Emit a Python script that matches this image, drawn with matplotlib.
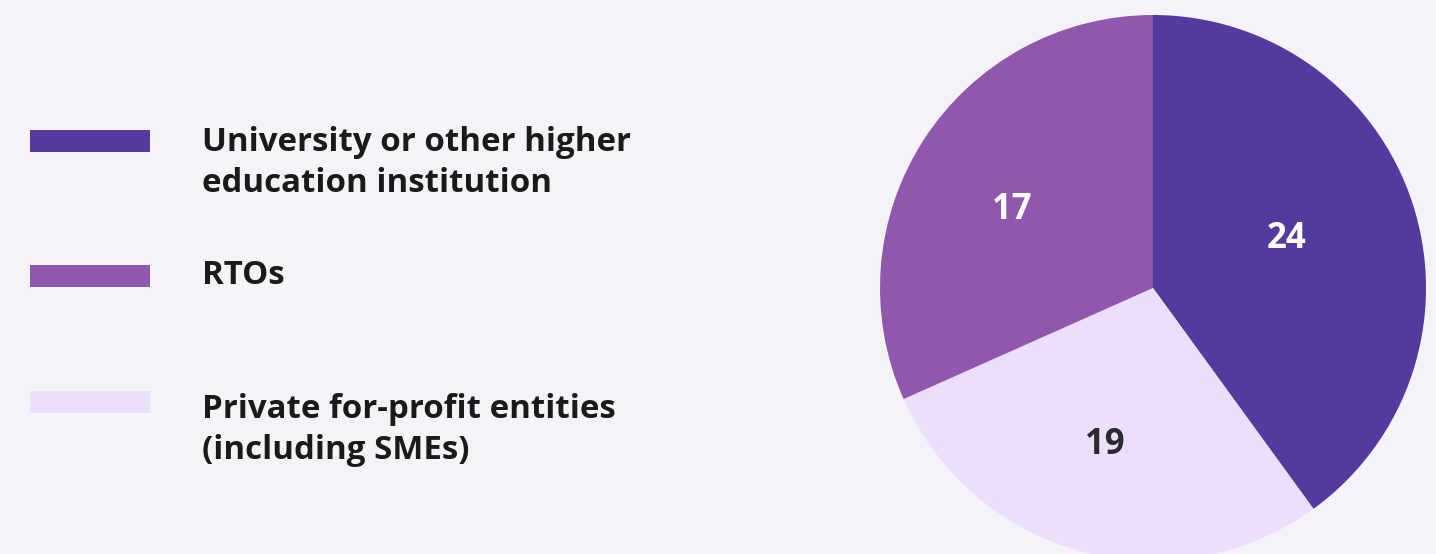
import matplotlib
matplotlib.use("Agg")
import matplotlib.pyplot as plt
from matplotlib.patches import Rectangle
import numpy as np

categories = ["University or other higher\neducation institution", "RTOs",
              "Private for-profit entities\n(including SMEs)"]
# wedge sizes as drawn in the picture (angles), and the numbers printed on them
wedge_values = [24, 19, 17]
printed_labels = ["24", "17", "19"]
colors = ["#543A9E", "#9157AE", "#ECDFFD"]
label_colors = ["#FFFFFF", "#FFFFFF", "#2B2B2B"]
bg = "#F4F3F8"

W, H = 1436, 554
fig = plt.figure(figsize=(W / 100, H / 100), dpi=100, facecolor=bg)
plt.rcParams['font.family'] = ['Open Sans', 'DejaVu Sans']

# pie: center (1153, 288), radius 273 px
cx, cy, r = 1153, 288, 273
ax = fig.add_axes([(cx - r) / W, (H - cy - r) / H, 2 * r / W, 2 * r / H])
ax.set_facecolor(bg)
# order clockwise from top: University, Private, RTOs
order = [0, 2, 1]
pv = [wedge_values[i] for i in order]
pc = [colors[i] for i in order]
wedges, texts = ax.pie(pv, colors=pc, startangle=90, counterclock=False,
                       radius=1, wedgeprops=dict(linewidth=0))
dists = {0: 0.52, 1: 0.59, 2: 0.6}
shift = {0: 2.0, 1: 4.0, 2: -2.0}
for w, i in zip(wedges, order):
    ang = np.deg2rad((w.theta1 + w.theta2) / 2 + shift[i])
    d = dists[i]
    ax.text(d * np.cos(ang), d * np.sin(ang), printed_labels[i], ha='center',
            va='center', fontsize=25, fontweight='bold', color=label_colors[i])
ax.set_xlim(-1, 1)
ax.set_ylim(-1, 1)
ax.set_aspect('equal')
ax.axis('off')

# legend
patch_y = [141, 276, 402]  # centers in px from top
text_y = [163, 276, 430]
for i, cat in enumerate(categories):
    y = patch_y[i]
    fig.add_artist(Rectangle((30 / W, (H - y - 11) / H), 120 / W, 22 / H,
                             transform=fig.transFigure, facecolor=colors[i],
                             edgecolor='none'))
    fig.text(202 / W, (H - text_y[i]) / H, cat, fontsize=23.8, fontweight='bold',
             color="#1A1A1A", va='center', ha='left', linespacing=1.3)

fig.savefig("out.png", dpi=100, facecolor=bg)
